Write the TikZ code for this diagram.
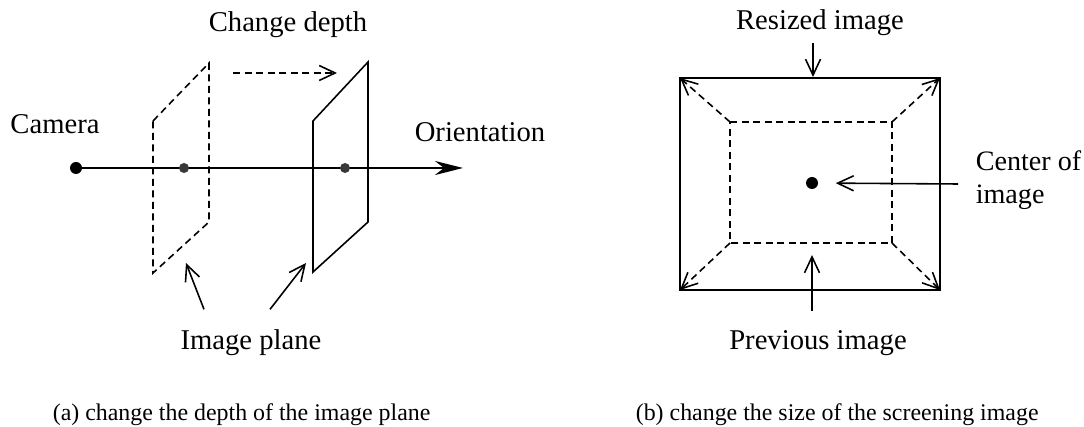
\documentclass[tikz,border=0pt]{standalone}
\usepackage{fontspec}
\setmainfont{Liberation Serif}
\usetikzlibrary{arrows.meta}
\tikzset{lbl/.style={font=\fontsize{16.3}{19}\selectfont,inner sep=0pt,anchor=base},
captxt/.style={font=\fontsize{13.6}{16}\selectfont,inner sep=0pt,anchor=base west},
opn/.style={-{Straight Barb[length=3.2mm,width=3mm]}},
dsh/.style={dash pattern=on 1.4mm off 0.9mm},
dot/.style={circle,fill,inner sep=0pt,minimum size=2.4mm}}
\begin{document}
\begin{tikzpicture}[x=0.2mm,y=-0.2mm,line width=0.9pt]
\useasboundingbox(0,0)rectangle(1084,427);
% (a) depth of the image plane
\coordinate(A)at(153,121);\coordinate(B)at(209,63);\coordinate(C)at(209,222);\coordinate(D)at(153,273);\coordinate(A1)at(313,121);\coordinate(B1)at(368,62);\coordinate(C1)at(368,222);\coordinate(D1)at(313,272);
\draw[dsh](A)--(B)--(C)--(D)--cycle;\draw(A1)--(B1)--(C1)--(D1)--cycle;
\node[dot](cam)at(76,168){};\coordinate(O)at(463,168);
\draw[-{Stealth[length=5.6mm,width=2.8mm,inset=1.8mm]}](cam.center)--(O);
\fill[black!78](184,168)circle(1mm) (345,168)circle(1mm);
\coordinate(M)at(233,73);\coordinate(M1)at(337,73);\draw[dsh,opn](M)--(M1);
\node[lbl](chg)at(288,32){Change depth};\node[lbl](camlbl)at(55,134){Camera};\node[lbl](ori)at(480,142){Orientation};\node[lbl](ipl)at(251,350){Image plane};
\coordinate(p1)at(186,263);\coordinate(p2)at(306,263);
\draw[opn]([xshift=-9.4mm,yshift=4mm]ipl.north)--(p1);\draw[opn]([xshift=3.8mm,yshift=4mm]ipl.north)--(p2);
% (b) size of the screening image
\coordinate(E)at(680,78);\coordinate(F)at(940,78);\coordinate(G)at(940,290);\coordinate(H)at(680,290);\coordinate(P)at(730,122);\coordinate(Q)at(892,122);\coordinate(R)at(892,243);\coordinate(S)at(730,243);
\draw(E)--(F)--(G)--(H)--cycle;\draw[dsh](P)--(Q)--(R)--(S)--cycle;
\foreach\i/\o in{P/E,Q/F,R/G,S/H}{\draw[dsh,opn](\i)--(\o);}
\node[dot](ctr)at(812,183){};
\node[lbl](resz)at(820,30){Resized image};\node[lbl](prev)at(818,350){Previous image};
\node[font=\fontsize{16}{19}\selectfont,inner sep=0pt,anchor=north west,align=left](ctrlbl)at(975,150){Center of\\image};
\coordinate(T)at(813,77);\coordinate(U)at(812,255);\coordinate(c1)at(958,184);
\draw[opn,shorten <=1.2mm](resz.south-|T)--(T);\draw[opn,shorten <=3.8mm](prev.north-|U)--(U);\draw[opn,shorten >=3.4mm](c1)--(ctr);
\node[captxt](capa)at(52,421){(a) change the depth of the image plane};\node[captxt](capb)at(635,421){(b) change the size of the screening image};
\end{tikzpicture}
\end{document}
